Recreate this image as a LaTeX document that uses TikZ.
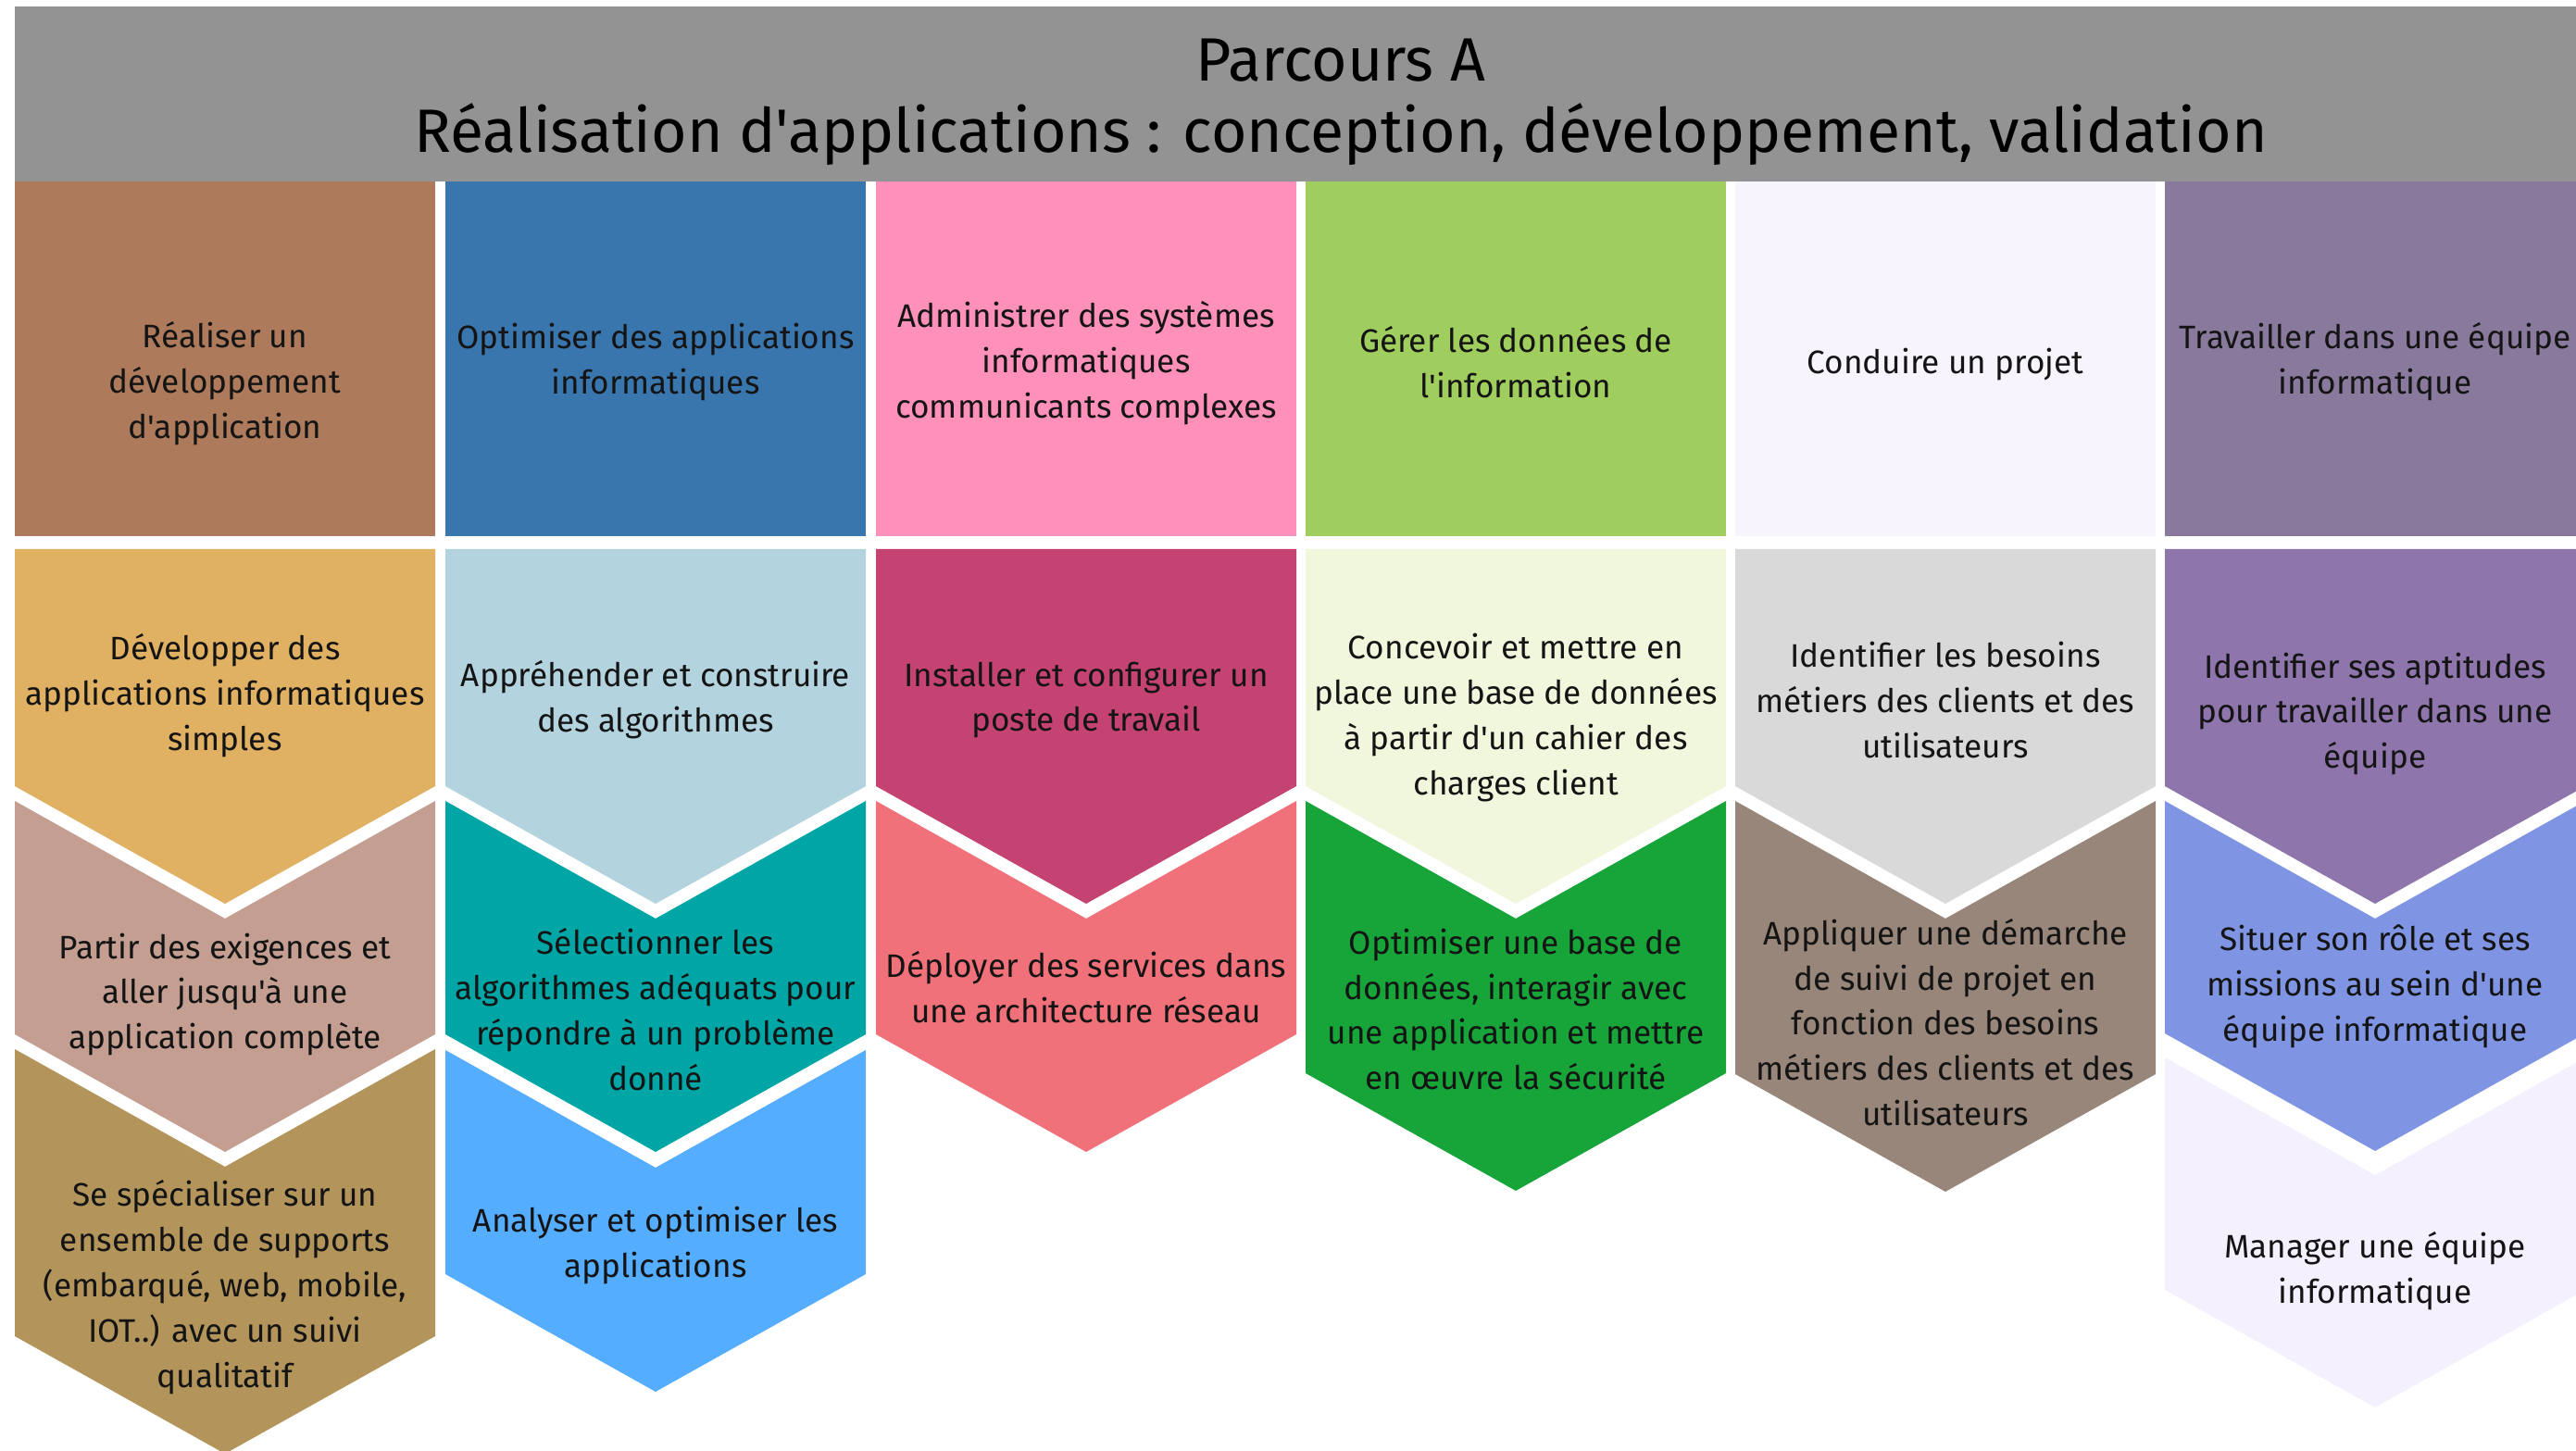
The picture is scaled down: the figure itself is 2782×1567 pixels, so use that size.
\documentclass[tikz,border=0pt]{standalone}
\usepackage{fontspec}
\setmainfont{Fira Sans}[Ligatures=TeXOff]
\usetikzlibrary{positioning}

\definecolor{entete}{HTML}{939393}
\definecolor{brunA}{HTML}{AD7A5B}
\definecolor{bleuA}{HTML}{3A76AE}
\definecolor{roseA}{HTML}{FF90B9}
\definecolor{vertA}{HTML}{A0CE5E}
\definecolor{blancA}{HTML}{F7F4FD}
\definecolor{violetA}{HTML}{897A9D}
\definecolor{jauneB}{HTML}{E0B162}
\definecolor{bleuB}{HTML}{B3D4DF}
\definecolor{roseB}{HTML}{C44372}
\definecolor{vertB}{HTML}{F1F7DC}
\definecolor{grisB}{HTML}{D9D9D9}
\definecolor{violetB}{HTML}{8E76AC}
\definecolor{brunC}{HTML}{C49F91}
\definecolor{bleuC}{HTML}{00A6A6}
\definecolor{roseC}{HTML}{F07179}
\definecolor{vertC}{HTML}{17A53A}
\definecolor{grisC}{HTML}{978679}
\definecolor{violetC}{HTML}{7F95E3}
\definecolor{brunD}{HTML}{B3955C}
\definecolor{bleuD}{HTML}{55ADFF}
\definecolor{violetD}{HTML}{F5F0FE}

% chevron with flat top: left, top, bottom of sides, colour
\newcommand{\chevtop}[4]{%
  \fill[#4] (#1,#2) -- (#1+454,#2) -- (#1+454,#3) -- (#1+227,#3+127) -- (#1,#3) -- cycle;}
% chevron with notched top: left, top of sides, bottom of sides, colour
\newcommand{\chevnext}[4]{%
  \fill[#4] (#1,#2) -- (#1+227,#2+127) -- (#1+454,#2) -- (#1+454,#3) -- (#1+227,#3+127) -- (#1,#3) -- cycle;}

\begin{document}
\begin{tikzpicture}[x=0.1mm, y=-0.1mm,
    txt/.style={align=center, font=\fontsize{10}{13.9}\selectfont, text=black!92},
    titre/.style={align=center, font=\fontsize{18.8}{21.8}\selectfont, text=black}]
    \useasboundingbox (0,0) rectangle (2782,1567);
    \clip (0,0) rectangle (2782,1567);

    % header
    \fill[entete] (16,7) rectangle (2792,196);
    \node[titre] (titre) at (1448,110) {Parcours A\\Réalisation d'applications : conception, développement, validation};

    % top row
    \fill[brunA] (16,196) rectangle (470,579);
    \fill[bleuA] (481,196) rectangle (935,579);
    \fill[roseA] (946,196) rectangle (1400,579);
    \fill[vertA] (1410,196) rectangle (1864,579);
    \fill[blancA] (1874,196) rectangle (2328,579);
    \fill[violetA] (2338,196) rectangle (2792,579);
    \node[txt] (t1) at (243,414) {Réaliser un\\développement\\d'application};
    \node[txt] (t2) at (708,391) {Optimiser des applications\\informatiques};
    \node[txt] (t3) at (1173,392) {Administrer des systèmes\\informatiques\\communicants complexes};
    \node[txt] (t4) at (1637,391) {Gérer les données de\\l'information};
    \node[txt] (t5) at (2101,394) {Conduire un projet};
    \node[txt] (t6) at (2565,391) {Travailler dans une équipe\\informatique};

    % second row
    \chevtop{16}{593}{849}{jauneB}
    \chevtop{481}{593}{849}{bleuB}
    \chevtop{946}{593}{849}{roseB}
    \chevtop{1410}{593}{849}{vertB}
    \chevtop{1874}{593}{849}{grisB}
    \chevtop{2338}{593}{849}{violetB}
    \node[txt] (a1) at (243,751) {Développer des\\applications informatiques\\simples};
    \node[txt] (a2) at (708,756) {Appréhender et construire\\des algorithmes};
    \node[txt] (a3) at (1173,756) {Installer et configurer un\\poste de travail};
    \node[txt] (a4) at (1637,775) {Concevoir et mettre en\\place une base de données\\à partir d'un cahier des\\charges client};
    \node[txt] (a5) at (2101,756) {Identifier les besoins\\métiers des clients et des\\utilisateurs};
    \node[txt] (a6) at (2565,771) {Identifier ses aptitudes\\pour travailler dans une\\équipe};

    % third row
    \chevnext{16}{865}{1117}{brunC}
    \chevnext{481}{865}{1117}{bleuC}
    \chevnext{946}{865}{1117}{roseC}
    \chevnext{1410}{865}{1159}{vertC}
    \chevnext{1874}{865}{1160}{grisC}
    \chevnext{2338}{865}{1116}{violetC}
    \node[txt] (b1) at (243,1074) {Partir des exigences et\\aller jusqu'à une\\application complète};
    \node[txt] (b2) at (708,1090) {Sélectionner les\\algorithmes adéquats pour\\répondre à un problème\\donné};
    \node[txt] (b3) at (1173,1066) {Déployer des services dans\\une architecture réseau};
    \node[txt] (b4) at (1637,1090) {Optimiser une base de\\données, interagir avec\\une application et mettre\\en œuvre la sécurité};
    \node[txt] (b5) at (2101,1104) {Appliquer une démarche\\de suivi de projet en\\fonction des besoins\\métiers des clients et des\\utilisateurs};
    \node[txt] (b6) at (2565,1065) {Situer son rôle et ses\\missions au sein d'une\\équipe informatique};

    % fourth row
    \chevnext{16}{1133}{1443}{brunD}
    \chevnext{481}{1134}{1376}{bleuD}
    \chevnext{2338}{1142}{1393}{violetD}
    \node[txt] (c1) at (243,1390) {Se spécialiser sur un\\ensemble de supports\\(embarqué, web, mobile,\\IOT..) avec un suivi\\qualitatif};
    \node[txt] (c2) at (708,1345) {Analyser et optimiser les\\applications};
    \node[txt] (c6) at (2565,1373) {Manager une équipe\\informatique};
\end{tikzpicture}
\end{document}
